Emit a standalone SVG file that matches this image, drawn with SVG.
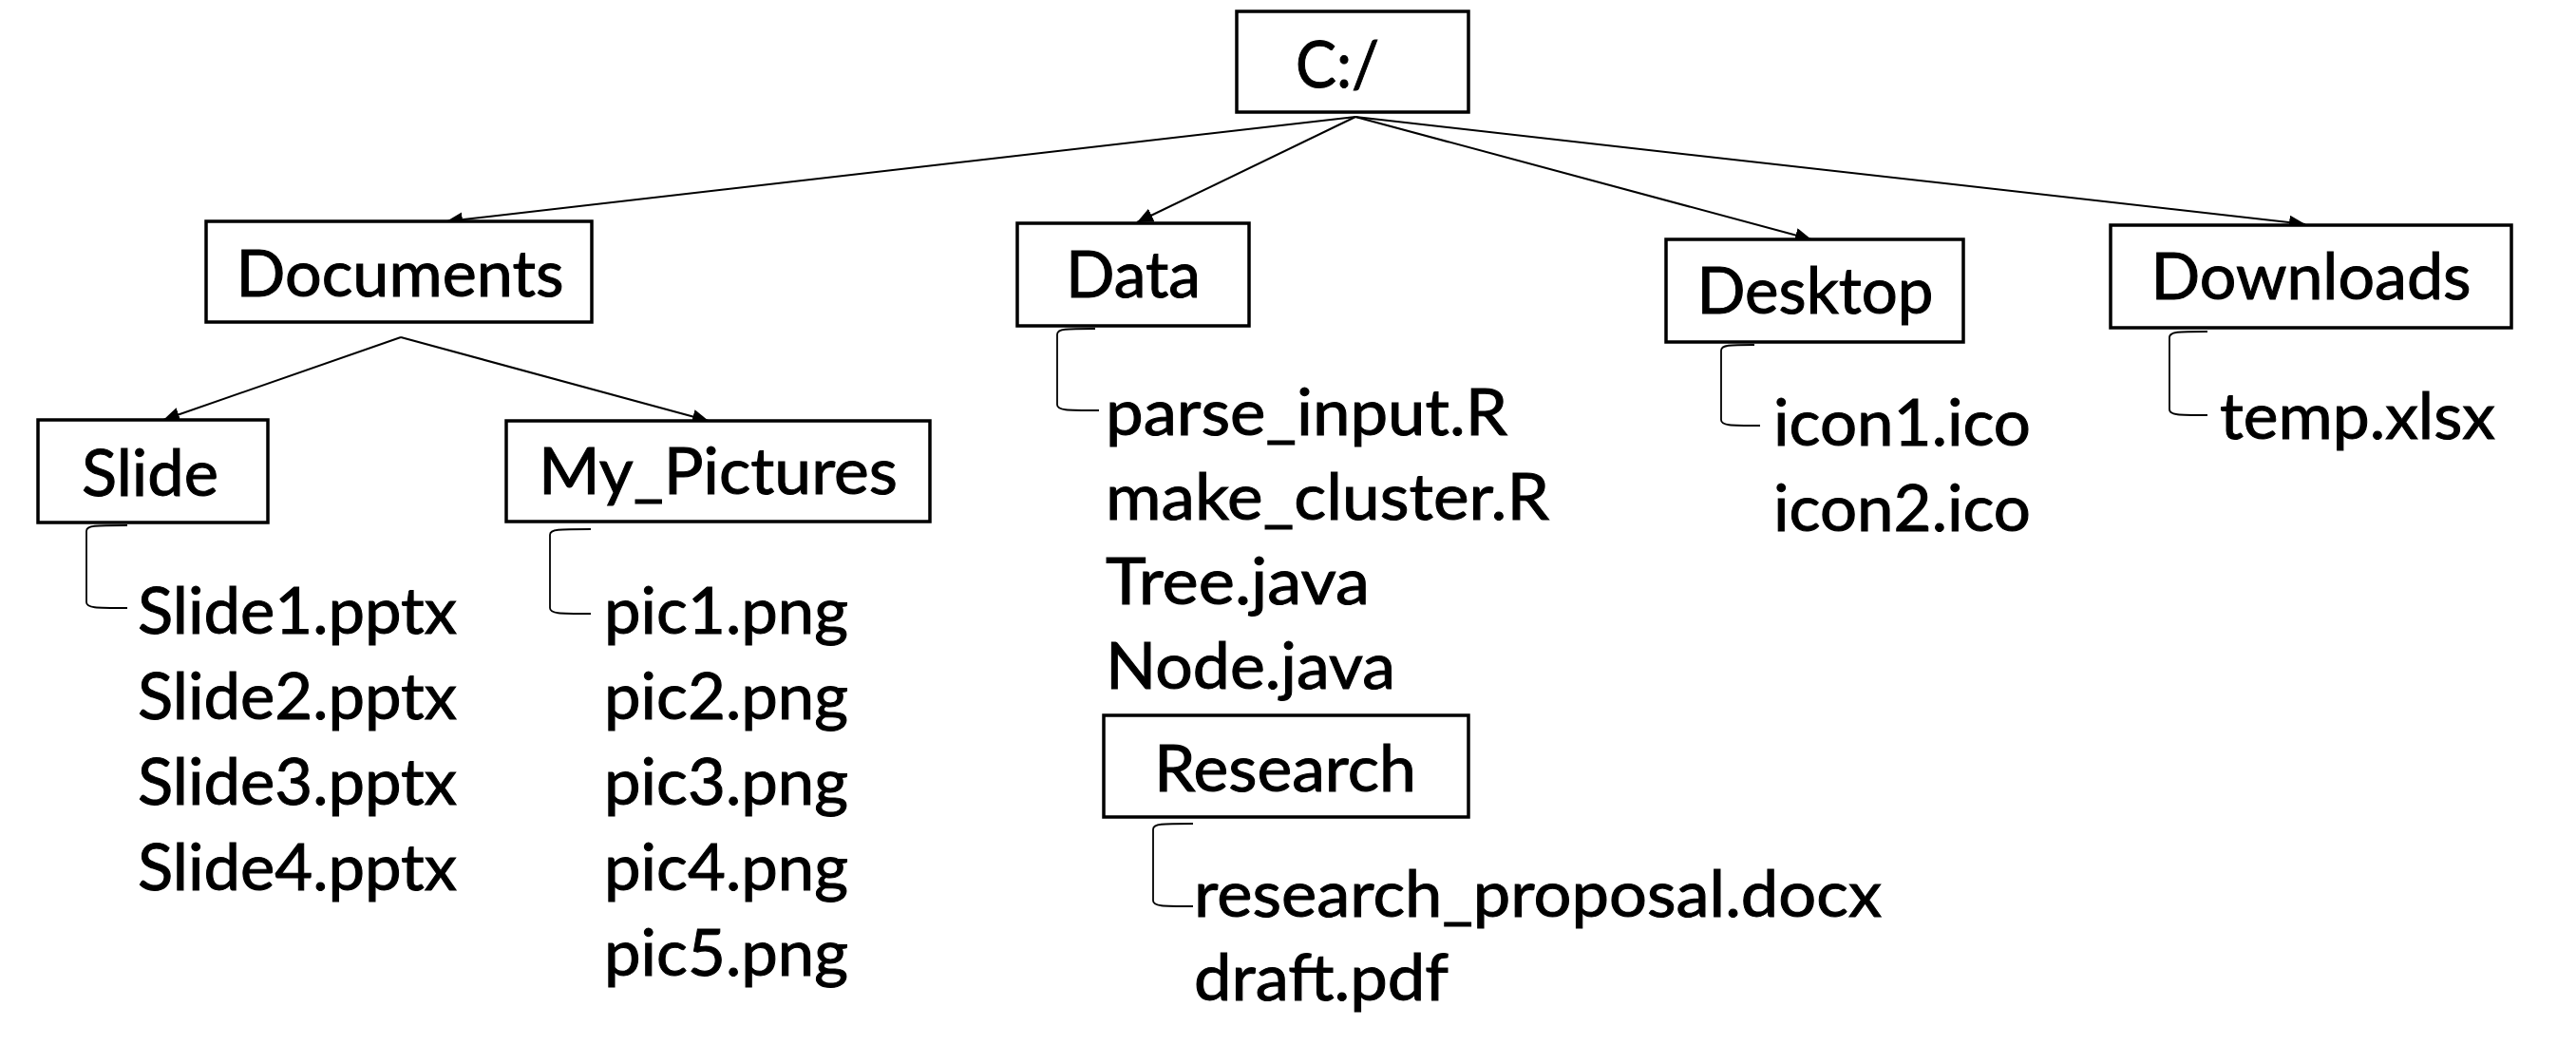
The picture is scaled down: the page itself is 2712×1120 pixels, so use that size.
<svg xmlns="http://www.w3.org/2000/svg" width="2712" height="1120" viewBox="0 0 2712 1120">
<style>
  .box { fill: #ffffff; stroke: #000000; stroke-width: 3.5; }
  .lbl { font-family: "Lato", "Open Sans", sans-serif; font-size: 67px; fill: #000000; stroke: #000000; stroke-width: 1; text-anchor: middle; }
  .file { font-family: "Lato", "Open Sans", sans-serif; font-size: 67px; fill: #000000; stroke: #000000; stroke-width: 1; }
  .edge { fill: none; stroke: #000000; stroke-width: 2; }
  .brk { fill: none; stroke: #000000; stroke-width: 1.8; }
</style>
<defs>
  <marker id="arrow" markerUnits="userSpaceOnUse" markerWidth="18" markerHeight="16" refX="17" refY="7.5" orient="auto">
    <path d="M0,0 L17,7.5 L0,15 z" fill="#000000"/>
  </marker>
</defs>
<rect width="2712" height="1120" fill="#ffffff"/>

<g id="connectors">
  <line class="edge" x1="1427" y1="123" x2="470" y2="233" marker-end="url(#arrow)"/>
  <line class="edge" x1="1427" y1="123" x2="1197" y2="234" marker-end="url(#arrow)"/>
  <line class="edge" x1="1427" y1="123" x2="1907" y2="252" marker-end="url(#arrow)"/>
  <line class="edge" x1="1427" y1="123" x2="2427" y2="236" marker-end="url(#arrow)"/>
  <line class="edge" x1="422" y1="355" x2="172" y2="442" marker-end="url(#arrow)"/>
  <line class="edge" x1="422" y1="355" x2="746" y2="443" marker-end="url(#arrow)"/>
  <path class="brk" d="M134,553 C100,553 91,553 91,559 V634 C91,640 100,640 134,640"/>
  <path class="brk" d="M622,557 C588,557 579,557 579,563 V640 C579,646 588,646 622,646"/>
  <path class="brk" d="M1153,346 C1122,346 1113,346 1113,352 V426 C1113,432 1122,432 1157,432"/>
  <path class="brk" d="M1847,363 C1821,363 1812,363 1812,369 V442 C1812,448 1821,448 1853,448"/>
  <path class="brk" d="M2324,349 C2293,349 2284,349 2284,355 V431 C2284,437 2293,437 2324,437"/>
  <path class="brk" d="M1256,867 C1223,867 1214,867 1214,873 V948 C1214,954 1223,954 1256,954"/>
</g>

<g id="node-root">
  <rect class="box" x="1302" y="12" width="244" height="106"/>
  <text class="file" x="1364" y="92" textLength="88" lengthAdjust="spacingAndGlyphs">C:/</text>
</g>
<g id="node-documents">
  <rect class="box" x="217" y="233" width="406" height="106"/>
  <text class="lbl" x="421" y="312" textLength="345" lengthAdjust="spacingAndGlyphs">Documents</text>
</g>
<g id="node-data">
  <rect class="box" x="1071" y="235" width="244" height="108"/>
  <text class="lbl" x="1193" y="313" textLength="142" lengthAdjust="spacingAndGlyphs">Data</text>
</g>
<g id="node-desktop">
  <rect class="box" x="1754" y="252" width="313" height="108"/>
  <text class="lbl" x="1911" y="330" textLength="249" lengthAdjust="spacingAndGlyphs">Desktop</text>
</g>
<g id="node-downloads">
  <rect class="box" x="2222" y="237" width="422" height="108"/>
  <text class="lbl" x="2433" y="315" textLength="337" lengthAdjust="spacingAndGlyphs">Downloads</text>
</g>
<g id="node-slide">
  <rect class="box" x="40" y="442" width="242" height="108"/>
  <text class="lbl" x="158" y="522" textLength="144" lengthAdjust="spacingAndGlyphs">Slide</text>
</g>
<g id="node-my-pictures">
  <rect class="box" x="533" y="443" width="446" height="106"/>
  <text class="lbl" x="756" y="520" textLength="378" lengthAdjust="spacingAndGlyphs">My_Pictures</text>
</g>
<g id="node-research">
  <rect class="box" x="1162" y="753" width="384" height="107"/>
  <text class="lbl" x="1353" y="833" textLength="276" lengthAdjust="spacingAndGlyphs">Research</text>
</g>

<g id="files-slide">
  <text class="file" x="145" y="667" textLength="336" lengthAdjust="spacingAndGlyphs">Slide1.pptx</text>
  <text class="file" x="145" y="757" textLength="336" lengthAdjust="spacingAndGlyphs">Slide2.pptx</text>
  <text class="file" x="145" y="847" textLength="336" lengthAdjust="spacingAndGlyphs">Slide3.pptx</text>
  <text class="file" x="145" y="937" textLength="336" lengthAdjust="spacingAndGlyphs">Slide4.pptx</text>
</g>
<g id="files-my-pictures">
  <text class="file" x="636" y="667" textLength="257" lengthAdjust="spacingAndGlyphs">pic1.png</text>
  <text class="file" x="636" y="757" textLength="257" lengthAdjust="spacingAndGlyphs">pic2.png</text>
  <text class="file" x="636" y="847" textLength="257" lengthAdjust="spacingAndGlyphs">pic3.png</text>
  <text class="file" x="636" y="937" textLength="257" lengthAdjust="spacingAndGlyphs">pic4.png</text>
  <text class="file" x="636" y="1027" textLength="257" lengthAdjust="spacingAndGlyphs">pic5.png</text>
</g>
<g id="files-data">
  <text class="file" x="1164" y="458" textLength="423" lengthAdjust="spacingAndGlyphs">parse_input.R</text>
  <text class="file" x="1164" y="547" textLength="467" lengthAdjust="spacingAndGlyphs">make_cluster.R</text>
  <text class="file" x="1164" y="636" textLength="278" lengthAdjust="spacingAndGlyphs">Tree.java</text>
  <text class="file" x="1164" y="725" textLength="305" lengthAdjust="spacingAndGlyphs">Node.java</text>
</g>
<g id="files-research">
  <text class="file" x="1257" y="965" textLength="724" lengthAdjust="spacingAndGlyphs">research_proposal.docx</text>
  <text class="file" x="1257" y="1053" textLength="268" lengthAdjust="spacingAndGlyphs">draft.pdf</text>
</g>
<g id="files-desktop">
  <text class="file" x="1867" y="469" textLength="271" lengthAdjust="spacingAndGlyphs">icon1.ico</text>
  <text class="file" x="1867" y="559" textLength="271" lengthAdjust="spacingAndGlyphs">icon2.ico</text>
</g>
<g id="files-downloads">
  <text class="file" x="2337" y="462" textLength="290" lengthAdjust="spacingAndGlyphs">temp.xlsx</text>
</g>
</svg>
